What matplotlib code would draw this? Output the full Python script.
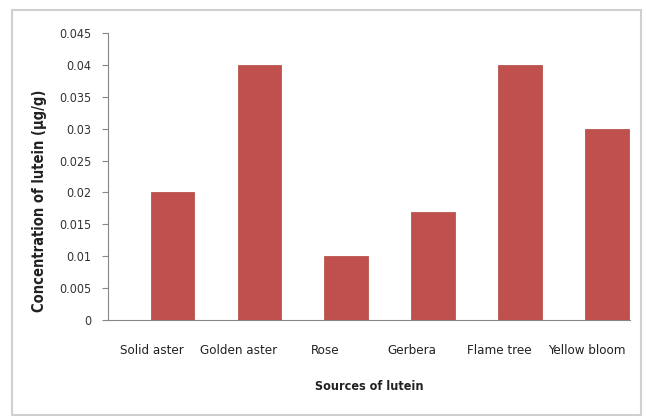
import matplotlib
matplotlib.use("Agg")
import matplotlib.pyplot as plt
import matplotlib.patches as patches
import numpy as np

# Lutein content per flower source
fuentes = ["Solid aster", "Golden aster", "Rose", "Gerbera", "Flame tree", "Yellow bloom"]
luteina = [0.02, 0.04, 0.01, 0.017, 0.04, 0.03]

y_ticks = [0, 0.005, 0.01, 0.015, 0.02, 0.025, 0.03, 0.035, 0.04, 0.045]
y_labels = ["0", "0.005", "0.01", "0.015", "0.02", "0.025", "0.03", "0.035", "0.04", "0.045"]

plt.rcParams["font.family"] = ["DejaVu Sans"]
plt.rcParams["font.stretch"] = "condensed"

fig = plt.figure(figsize=(6.46, 4.16), dpi=100)
ax = fig.add_axes([0.167, 0.2308, 0.808, 0.690])

# chart border
borde = patches.Rectangle((0.0186, 0.0024), 0.9737, 0.9736, transform=fig.transFigure,
                          fill=False, edgecolor="#d0d0d0", linewidth=1.5)
fig.patches.append(borde)

x = np.arange(len(fuentes))
ax.bar(x + 0.24, luteina, width=0.5, color="#c0504d", edgecolor="#b04540", linewidth=0.5)

ax.set_xlim(-0.5, len(fuentes) - 0.5)
ax.set_ylim(0, 0.045)
ax.set_yticks(y_ticks)
ax.set_yticklabels(y_labels, fontsize=9, color="#333333")
ax.set_xticks(x)
ax.set_xticklabels(fuentes, fontsize=9.5, color="#222222")
ax.tick_params(axis="x", length=0, pad=17)
ax.tick_params(axis="y", length=4, color="#868686", pad=8)

for lado in ["top", "right"]:
    ax.spines[lado].set_visible(False)
ax.spines["left"].set_color("#868686")
ax.spines["bottom"].set_color("#868686")

ax.set_xlabel("Sources of lutein", fontsize=9, fontweight="bold", color="#222222", labelpad=17)
ax.set_ylabel("Concentration of lutein (\u00b5g/g)", fontsize=10.5, fontweight="bold",
              color="#222222")
ax.yaxis.set_label_coords(-0.117, 0.415)

fig.savefig("out.png", dpi=100)
